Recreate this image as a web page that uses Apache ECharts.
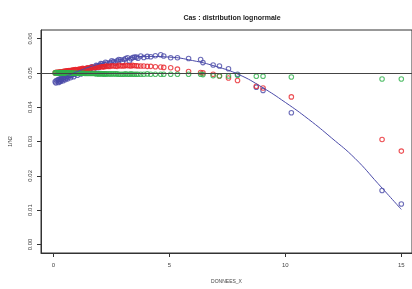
<!DOCTYPE html>
<html>
<head>
<meta charset="utf-8">
<script src="https://cdn.jsdelivr.net/npm/echarts@6/dist/echarts.min.js"></script>
<style>
html,body{margin:0;padding:0;background:#fff;}
#root{width:412px;height:289px;}
</style>
</head>
<body>
<div id="root"></div>
<script>
// shared x values (DONNEES_X)
var donneesX = [0.08,0.20,0.25,0.30,0.35,0.40,0.45,0.50,0.55,0.60,0.65,0.70,0.78,0.85,0.92,1.00,1.08,1.15,1.22,1.30,
  1.40,1.50,1.60,1.70,1.80,1.90,2.00,2.10,2.20,2.30,2.45,2.60,2.75,2.90,3.05,3.20,3.35,3.50,3.65,3.77,
  3.90,4.05,4.20,4.40,4.63,4.76,5.06,5.35,5.83,6.35,6.45,6.89,7.16,7.55,7.94,8.75,9.04,10.26,14.17,15.00,
  0.11,0.22,0.27,0.32,0.42,0.52,0.62,0.74,0.88,1.04,1.19,1.35,1.55,1.75,1.95,2.15,2.38,2.68,2.98,3.28,
  0.13,0.24,0.34,0.47,0.58,0.68,0.81,0.96,1.12,1.27,1.45,1.65,1.85,2.05,2.25,2.52,2.82,3.12,3.42,3.58];
var blueY = [0.0474,0.0479,0.0477,0.0481,0.0479,0.0484,0.0482,0.0487,0.0485,0.0490,0.0488,0.0493,0.0492,0.0497,0.0496,0.0501,0.0500,0.0505,0.0504,0.0509,
  0.0508,0.0513,0.0512,0.0517,0.0516,0.0521,0.0522,0.0526,0.0525,0.0529,0.0530,0.0533,0.0535,0.0538,0.0539,0.0544,0.0541,0.0546,0.0543,0.0549,
  0.0545,0.0548,0.0547,0.0550,0.0553,0.0549,0.0544,0.0544,0.0542,0.0539,0.0530,0.0523,0.0520,0.0512,0.0496,0.0458,0.0449,0.0384,0.0157,0.0118,
  0.0471,0.0472,0.0474,0.0475,0.0477,0.0480,0.0483,0.0486,0.0489,0.0493,0.0497,0.0501,0.0506,0.0510,0.0515,0.0519,0.0523,0.0527,0.0531,0.0535,
  0.0478,0.0481,0.0484,0.0488,0.0491,0.0494,0.0497,0.0501,0.0505,0.0509,0.0513,0.0518,0.0522,0.0527,0.0531,0.0535,0.0539,0.0542,0.0545,0.0546];
var redY = [0.0500,0.0501,0.0500,0.0502,0.0501,0.0503,0.0502,0.0504,0.0504,0.0505,0.0505,0.0506,0.0507,0.0507,0.0509,0.0508,0.0510,0.0509,0.0511,0.0512,
  0.0512,0.0514,0.0514,0.0516,0.0515,0.0517,0.0517,0.0518,0.0518,0.0519,0.0519,0.0520,0.0519,0.0520,0.0520,0.0521,0.0520,0.0521,0.0520,0.0520,
  0.0520,0.0519,0.0519,0.0518,0.0517,0.0516,0.0515,0.0511,0.0504,0.0501,0.0500,0.0496,0.0491,0.0485,0.0478,0.0461,0.0456,0.0430,0.0306,0.0272,
  0.0501,0.0500,0.0501,0.0502,0.0502,0.0504,0.0505,0.0506,0.0508,0.0509,0.0511,0.0512,0.0514,0.0515,0.0517,0.0518,0.0519,0.0520,0.0521,0.0521,
  0.0502,0.0503,0.0503,0.0505,0.0506,0.0507,0.0508,0.0510,0.0511,0.0513,0.0514,0.0516,0.0517,0.0519,0.0520,0.0521,0.0522,0.0522,0.0522,0.0521];
var greenY = [0.0500,0.0500,0.0501,0.0500,0.0500,0.0500,0.0501,0.0500,0.0500,0.0500,0.0500,0.0499,0.0500,0.0499,0.0499,0.0499,0.0499,0.0499,0.0498,0.0499,
  0.0498,0.0498,0.0498,0.0498,0.0498,0.0498,0.0497,0.0497,0.0497,0.0497,0.0497,0.0497,0.0497,0.0496,0.0496,0.0496,0.0497,0.0496,0.0496,0.0496,
  0.0496,0.0497,0.0496,0.0496,0.0496,0.0496,0.0496,0.0496,0.0496,0.0496,0.0495,0.0492,0.0491,0.0491,0.0493,0.0490,0.0490,0.0488,0.0482,0.0482,
  0.0500,0.0500,0.0499,0.0500,0.0500,0.0499,0.0500,0.0499,0.0499,0.0498,0.0499,0.0498,0.0498,0.0498,0.0497,0.0497,0.0497,0.0497,0.0496,0.0496,
  0.0501,0.0500,0.0501,0.0500,0.0499,0.0500,0.0499,0.0499,0.0498,0.0499,0.0498,0.0498,0.0497,0.0498,0.0497,0.0497,0.0496,0.0497,0.0496,0.0496];
// fitted curve (blue line)
var curveX = [0.08,1,2,3,4,5,6,7,8,9,10,11,12,13,14,15];
var curveY = [0.0475,0.0503,0.0526,0.0540,0.0548,0.0546,0.0536,0.0519,0.0495,0.0458,0.0414,0.0365,0.0310,0.0251,0.0177,0.0102];
var xTicks = [0,5,10,15];
var yTicks = [0,0.01,0.02,0.03,0.04,0.05,0.06];
var refLevel = 0.05;

var zip = function(xs, ys){ return xs.map(function(x,i){ return [x, ys[i]]; }); };

var chart = echarts.init(document.getElementById('root'), null, {renderer:'canvas'});
var dot = function(name, color, ys){
  return {
    name: name, type: 'scatter', data: zip(donneesX, ys),
    symbol: 'circle', symbolSize: 4.5,
    itemStyle: {color: 'rgba(255,255,255,0)', borderColor: color, borderWidth: 1.1},
    silent: true, animation: false
  };
};
var option = {
  animation: false,
  title: {
    text: 'Cas : distribution lognormale', left: 227, top: 10, textAlign: 'center',
    textStyle: {fontFamily: 'Liberation Sans', fontSize: 7, fontWeight: 'bold', color: '#222'}
  },
  grid: {left: 40, top: 30, right: -2, bottom: 31, show: true, borderColor: '#333', borderWidth: 1},
  xAxis: {
    type: 'value', min: -0.53, max: 15.46,
    name: 'DONNEES_X', nameLocation: 'middle', nameGap: 26,
    nameTextStyle: {fontFamily: 'Liberation Sans', fontSize: 5, color: '#444'},
    axisLine: {show: true, onZero: false, lineStyle: {color: '#333', width: 1}},
    axisTick: {show: true, length: 4, lineStyle: {color: '#333'}, customValues: xTicks},
    axisLabel: {fontFamily: 'Liberation Sans', fontSize: 6, color: '#444', margin: 9, customValues: xTicks},
    splitLine: {show: false}
  },
  yAxis: {
    type: 'value', min: -0.0025, max: 0.0625,
    name: '1/N2', nameLocation: 'middle', nameGap: 28, nameRotate: 90,
    nameTextStyle: {fontFamily: 'Liberation Sans', fontSize: 5, color: '#444'},
    axisLine: {show: true, onZero: false, lineStyle: {color: '#333', width: 1}},
    axisTick: {show: true, length: 4, lineStyle: {color: '#333'}, customValues: yTicks},
    axisLabel: {fontFamily: 'Liberation Sans', fontSize: 6, color: '#444', rotate: 90, margin: 8,
      customValues: yTicks, formatter: function(v){ return v.toFixed(2); }},
    splitLine: {show: false}
  },
  series: [
    {
      name: 'ref', type: 'line', data: [], silent: true,
      markLine: {silent: true, symbol: 'none', label: {show: false},
        lineStyle: {color: '#444', width: 1, type: 'solid'},
        data: [{yAxis: refLevel}]}
    },
    dot('blue', '#4a4aa8', blueY),
    {
      name: 'fit', type: 'line', data: zip(curveX, curveY), smooth: true, showSymbol: false,
      lineStyle: {color: '#4a4aa8', width: 1}, silent: true
    },
    dot('red', '#e8262c', redY),
    dot('green', '#2eb04a', greenY)
  ]
};
chart.setOption(option);
</script>
</body>
</html>
